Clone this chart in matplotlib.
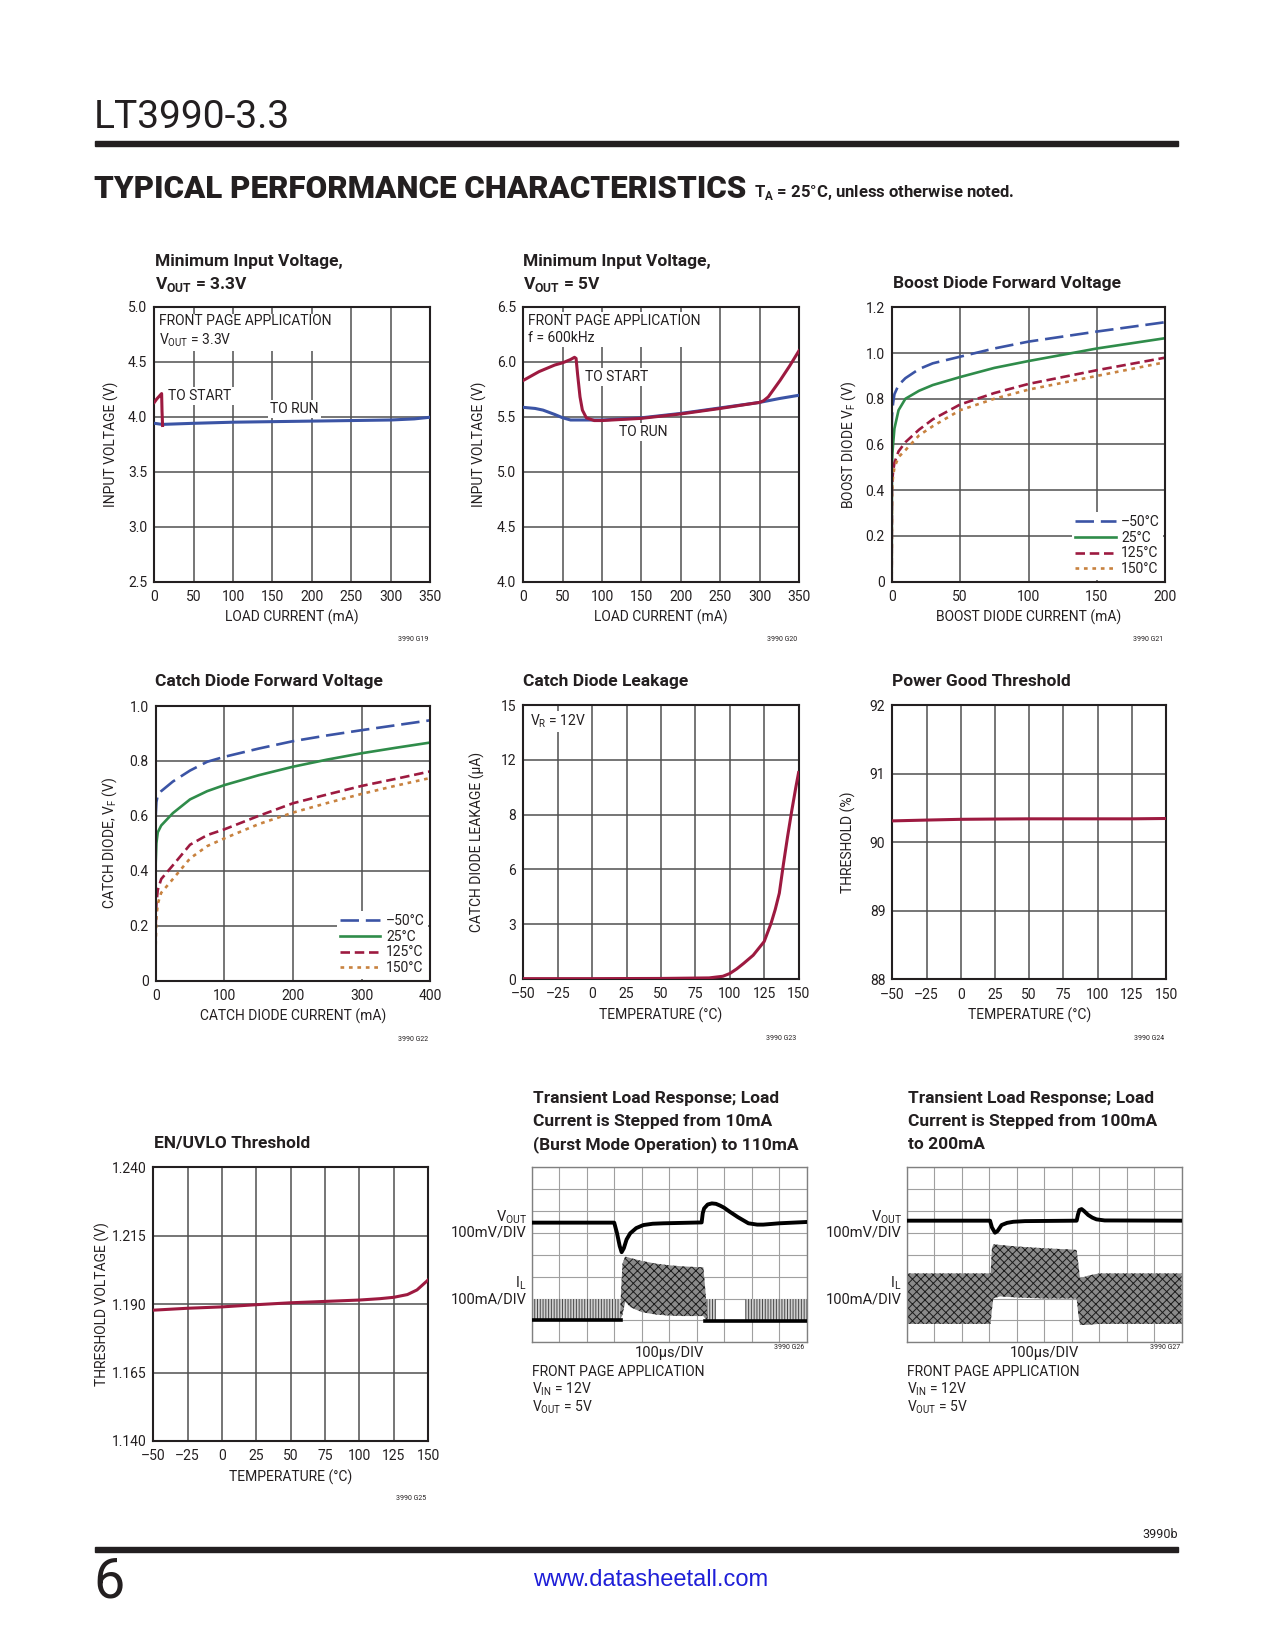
import numpy as np
import matplotlib
matplotlib.use('Agg')
import matplotlib.pyplot as plt
from matplotlib import font_manager

W, H = 1275, 1650
INK = '#231f20'
BLUE = '#3b54a5'
GREEN = '#2f8c4a'
RED = '#9d1a40'
ORANGE = '#c8823f'

avail = {f.name for f in font_manager.fontManager.ttflist}
fams = [f for f in ['Liberation Sans Narrow', 'Roboto'] if f in avail]
plt.rcParams['font.family'] = fams + ['DejaVu Sans']
plt.rcParams['text.color'] = INK
plt.rcParams['axes.labelcolor'] = INK
plt.rcParams['xtick.color'] = INK
plt.rcParams['ytick.color'] = INK
plt.rcParams['hatch.linewidth'] = 0.7

# ---- data ----
# minimum input voltage, VOUT = 3.3V
i1_run = [0, 10, 50, 100, 150, 200, 250, 300, 330, 350]
v1_run = [3.94, 3.93, 3.94, 3.95, 3.955, 3.96, 3.965, 3.97, 3.98, 3.995]
i1_start = [0, 3, 8, 9.3, 9.8, 10.5]
v1_start = [4.13, 4.16, 4.2, 4.21, 4.05, 3.92]

# minimum input voltage, VOUT = 5V
i2_run = [0, 15, 25, 40, 50, 60, 70, 100, 150, 200, 250, 300, 325, 350]
v2_run = [5.585, 5.575, 5.56, 5.52, 5.49, 5.47, 5.47, 5.47, 5.49, 5.53, 5.58, 5.63, 5.665, 5.695]
i2_start = [0, 10, 20, 30, 40, 50, 60, 65, 67, 69, 72, 75, 80, 90, 100, 150, 200, 250,
            300, 305, 311, 318, 326, 338, 350]
v2_start = [5.83, 5.87, 5.91, 5.94, 5.97, 5.99, 6.02, 6.04, 6.03, 5.88, 5.68, 5.56, 5.49,
            5.465, 5.465, 5.485, 5.525, 5.575, 5.63, 5.645, 5.68, 5.75, 5.83, 5.96, 6.1]

# boost diode forward voltage
temps = ['–50°C', '25°C', '125°C', '150°C']
i3 = [0, 0.2, 0.5, 1, 2, 5, 10, 20, 30, 50, 75, 100, 150, 200]
vb_m50 = [0.66, 0.72, 0.75, 0.78, 0.82, 0.86, 0.89, 0.93, 0.955, 0.984, 1.02, 1.05, 1.094, 1.135]
vb_25 = [0.0, 0.5, 0.56, 0.6, 0.67, 0.75, 0.80, 0.835, 0.86, 0.895, 0.935, 0.965, 1.02, 1.065]
vb_125 = [0.0, 0.40, 0.45, 0.48, 0.52, 0.57, 0.61, 0.665, 0.71, 0.775, 0.825, 0.865, 0.925, 0.98]
vb_150 = [0.0, 0.38, 0.43, 0.46, 0.50, 0.545, 0.575, 0.64, 0.68, 0.75, 0.80, 0.84, 0.90, 0.96]

# catch diode forward voltage
i4 = [0, 1, 3, 8, 25, 50, 75, 100, 150, 200, 250, 300, 350, 400]
vc_m50 = [0.60, 0.65, 0.675, 0.69, 0.725, 0.765, 0.797, 0.815, 0.845, 0.872, 0.893, 0.912, 0.93, 0.948]
vc_25 = [0.43, 0.50, 0.54, 0.565, 0.61, 0.66, 0.69, 0.712, 0.748, 0.779, 0.805, 0.828, 0.848, 0.867]
vc_125 = [0.20, 0.28, 0.33, 0.37, 0.42, 0.495, 0.53, 0.551, 0.60, 0.646, 0.678, 0.709, 0.735, 0.762]
vc_150 = [0.13, 0.23, 0.28, 0.32, 0.37, 0.445, 0.49, 0.518, 0.57, 0.612, 0.647, 0.68, 0.71, 0.738]

# catch diode leakage (axis units; the printed scale is 0 3 6 8 12 15)
t5 = [-50, 0, 50, 85, 95, 100, 105, 110, 117, 125, 130, 133, 136, 139, 142, 145, 148, 150]
leak = [0.02, 0.02, 0.03, 0.06, 0.15, 0.3, 0.55, 0.85, 1.3, 2.05, 3.05, 3.8, 4.7, 6.3, 7.8, 9.2, 10.5, 11.3]
leak_ticklabels = ['0', '3', '6', '8', '12', '15']

# power good threshold
t6 = [-50, -25, 0, 25, 50, 75, 100, 125, 150]
pg = [90.31, 90.322, 90.333, 90.337, 90.34, 90.34, 90.34, 90.34, 90.345]

# EN/UVLO threshold
t7 = [-50, -25, 0, 25, 50, 75, 100, 115, 125, 135, 142, 146, 150]
uvlo = [1.1878, 1.1885, 1.189, 1.1898, 1.1905, 1.191, 1.1915, 1.192, 1.1925, 1.1935, 1.1952, 1.197, 1.1988]

temp_ticks = [-50, -25, 0, 25, 50, 75, 100, 125, 150]
temp_labels = ['–50', '–25', '0', '25', '50', '75', '100', '125', '150']

# scope 1 (divisions, 10 x 8)
s1_vout_t = [0, 3.0, 3.1, 3.2, 3.27, 3.35, 3.45, 3.58, 3.8, 4.06, 4.4, 4.79, 5.5, 6.18, 6.22, 6.27,
             6.4, 6.55, 6.7, 6.85, 7.0, 7.2, 7.5, 7.88, 8.2, 8.42, 9.0, 10]
s1_vout = [5.47, 5.47, 5.0, 4.4, 4.12, 4.3, 4.7, 4.98, 5.22, 5.36, 5.42, 5.44, 5.46, 5.48, 5.9, 6.12,
           6.3, 6.35, 6.33, 6.25, 6.15, 5.97, 5.72, 5.44, 5.38, 5.38, 5.44, 5.5]
s1_il_t = [3.2, 3.3, 3.4, 3.6, 4.0, 4.5, 5.0, 5.5, 6.0, 6.24, 6.3, 6.4]
s1_il_hi = [1.0, 3.6, 3.92, 3.85, 3.72, 3.6, 3.52, 3.47, 3.44, 3.43, 2.6, 1.0]
s1_il_lo = [1.0, 1.25, 1.85, 1.6, 1.38, 1.27, 1.22, 1.2, 1.2, 1.2, 1.1, 1.0]
s1_bursts = [(0.0, 3.2), (6.3, 6.7), (7.76, 10.0)]
s1_burst_top = 2.0
s1_base_t = [0, 3.25, np.nan, 6.3, 10]
s1_base = [1.0, 1.0, np.nan, 0.97, 0.97]

# scope 2
s2_vout_t = [0, 3.03, 3.1, 3.21, 3.3, 3.45, 3.65, 3.88, 4.3, 6.18, 6.23, 6.28, 6.36, 6.45, 6.6,
             6.75, 6.9, 7.2, 10]
s2_vout = [5.56, 5.56, 5.25, 5.01, 5.08, 5.36, 5.46, 5.51, 5.54, 5.56, 5.85, 6.05, 6.09, 6.0, 5.82,
           5.7, 5.62, 5.57, 5.56]
s2_il_t = [0, 3.05, 3.1, 3.15, 3.4, 4.0, 5.0, 6.0, 6.18, 6.25, 6.3, 6.6, 7.0, 10]
s2_il_hi = [3.15, 3.15, 4.3, 4.48, 4.45, 4.38, 4.3, 4.24, 4.22, 3.5, 2.92, 3.05, 3.15, 3.15]
s2_il_lo = [0.84, 0.84, 1.5, 2.0, 2.1, 2.05, 2.0, 2.0, 2.0, 1.2, 0.79, 0.8, 0.84, 0.84]


fig = plt.figure(figsize=(W / 100, H / 100), dpi=100)

TITLE = 12.5


def ft(x, y, s, **kw):
    kw.setdefault('va', 'center')
    fig.text(x / W, 1 - y / H, s, **kw)


def pax(x0, y0, x1, y1):
    return fig.add_axes([x0 / W, 1 - y1 / H, (x1 - x0) / W, (y1 - y0) / H])


def style(ax, xlim, xt, xtl, ylim, yt, ytl, xlabel, ylabel, ylab_dx):
    ax.set_xlim(*xlim)
    ax.set_ylim(*ylim)
    ax.set_xticks(xt)
    ax.set_xticklabels(xtl)
    ax.set_yticks(yt)
    ax.set_yticklabels(ytl)
    ax.set_axisbelow(True)
    ax.grid(True, color='#505050', lw=1.1)
    ax.tick_params(length=0, labelsize=10)
    ax.tick_params(axis='x', pad=6)
    ax.tick_params(axis='y', pad=5)
    for s in ax.spines.values():
        s.set_linewidth(1.5)
        s.set_color(INK)
    ax.set_xlabel(xlabel, fontsize=10, va='center')
    ax.set_ylabel(ylabel, fontsize=10, va='center')
    ax.xaxis.set_label_coords(0.5, -36 / 275)
    ax.yaxis.set_label_coords(-ylab_dx / 275, 0.5)


def boxtext(ax, x, y, s, **kw):
    ax.text(x, y, s, fontsize=10, zorder=3,
            bbox=dict(facecolor='white', edgecolor='none', pad=1.5), **kw)


def legend(ax):
    leg = ax.legend(temps, loc='lower right', fontsize=10, handlelength=2.9, handletextpad=0.4,
                    labelspacing=0.12, borderpad=0.25, borderaxespad=0.15, fancybox=False)
    leg.get_frame().set_edgecolor('none')
    leg.get_frame().set_facecolor('white')
    leg.get_frame().set_alpha(1)


def four(ax, x, a, b, c, d):
    ax.plot(x, a, color=BLUE, lw=1.9, dashes=(7, 2.6))
    ax.plot(x, b, color=GREEN, lw=1.9)
    ax.plot(x, c, color=RED, lw=1.9, dashes=(3.6, 1.8))
    ax.plot(x, d, color=ORANGE, lw=1.9, dashes=(1.4, 1.8))


def tag(ax_right, y, s):
    ft(ax_right, y, s, fontsize=5, ha='right')


# ---- page header ----
ft(94, 117, 'LT3990-3.3', fontsize=28, ha='left')
fig.add_artist(plt.Rectangle((94.5 / W, 1 - 146 / H), (1178 - 94.5) / W, 5.5 / H,
                             transform=fig.transFigure, color=INK))
ft(94, 189, 'TYPICAL PERFORMANCE CHARACTERISTICS', fontsize=22.5, fontweight='heavy', ha='left')
ft(754, 192, 'T$_{\\mathregular{A}}$ = 25°C, unless otherwise noted.', fontsize=12,
   fontweight='bold', ha='left')

# ---- plot 1 ----
ax = pax(154.3, 306.7, 430, 581.7)
style(ax, (0, 350), range(0, 351, 50), [str(v) for v in range(0, 351, 50)],
      (2.5, 5.0), np.arange(2.5, 5.01, 0.5), ['2.5', '3.0', '3.5', '4.0', '4.5', '5.0'],
      'LOAD CURRENT (mA)', 'INPUT VOLTAGE (V)', 42.6)
ax.plot(i1_run, v1_run, color=BLUE, lw=2.2, zorder=4)
ax.plot(i1_start, v1_start, color=RED, lw=2.2, zorder=4)
boxtext(ax, 6, 4.93, 'FRONT PAGE APPLICATION\nV$_{\\mathregular{OUT}}$ = 3.3V', va='top', ha='left',
        linespacing=1.25)
boxtext(ax, 18, 4.19, 'TO START', va='center', ha='left')
boxtext(ax, 147, 4.07, 'TO RUN', va='center', ha='left')
ft(155, 261.7, 'Minimum Input Voltage,', fontsize=TITLE, fontweight='bold', ha='left')
ft(155, 285, 'V$_{\\mathregular{OUT}}$ = 3.3V', fontsize=TITLE, fontweight='bold', ha='left')
tag(428, 639.5, '3990 G19')

# ---- plot 2 ----
ax = pax(523.3, 306.7, 799, 581.7)
style(ax, (0, 350), range(0, 351, 50), [str(v) for v in range(0, 351, 50)],
      (4.0, 6.5), np.arange(4.0, 6.51, 0.5), ['4.0', '4.5', '5.0', '5.5', '6.0', '6.5'],
      'LOAD CURRENT (mA)', 'INPUT VOLTAGE (V)', 44)
ax.plot(i2_run, v2_run, color=BLUE, lw=2.2, zorder=4)
ax.plot(i2_start, v2_start, color=RED, lw=2.2, zorder=4)
boxtext(ax, 6, 6.43, 'FRONT PAGE APPLICATION\nf = 600kHz', va='top', ha='left', linespacing=1.25)
boxtext(ax, 78, 5.86, 'TO START', va='center', ha='left')
boxtext(ax, 122, 5.36, 'TO RUN', va='center', ha='left')
ft(523, 261.7, 'Minimum Input Voltage,', fontsize=TITLE, fontweight='bold', ha='left')
ft(523, 285, 'V$_{\\mathregular{OUT}}$ = 5V', fontsize=TITLE, fontweight='bold', ha='left')
tag(797, 639.5, '3990 G20')

# ---- plot 3 ----
ax = pax(891.7, 307.3, 1165.4, 581.7)
style(ax, (0, 200), range(0, 201, 50), [str(v) for v in range(0, 201, 50)],
      (0, 1.2), np.arange(0, 1.21, 0.2), ['0', '0.2', '0.4', '0.6', '0.8', '1.0', '1.2'],
      'BOOST DIODE CURRENT (mA)', 'BOOST DIODE V$_{\\mathregular{F}}$ (V)', 43.6)
four(ax, i3, vb_m50, vb_25, vb_125, vb_150)
legend(ax)
ft(893, 283.3, 'Boost Diode Forward Voltage', fontsize=TITLE, fontweight='bold', ha='left')
tag(1163, 639.5, '3990 G21')

# ---- plot 4 ----
ax = pax(155.7, 706, 430.3, 980.7)
style(ax, (0, 400), range(0, 401, 100), [str(v) for v in range(0, 401, 100)],
      (0, 1.0), np.arange(0, 1.01, 0.2), ['0', '0.2', '0.4', '0.6', '0.8', '1.0'],
      'CATCH DIODE CURRENT (mA)', 'CATCH DIODE, V$_{\\mathregular{F}}$ (V)', 45.7)
four(ax, i4, vc_m50, vc_25, vc_125, vc_150)
legend(ax)
ft(155, 681.7, 'Catch Diode Forward Voltage', fontsize=TITLE, fontweight='bold', ha='left')
tag(428, 1039.5, '3990 G22')

# ---- plot 5 ----
ax = pax(523.3, 705, 798.6, 979)
style(ax, (-50, 150), temp_ticks, temp_labels, (0, 15), range(0, 16, 3), leak_ticklabels,
      'TEMPERATURE (°C)', 'CATCH DIODE LEAKAGE (µA)', 46)
ax.plot(t5, leak, color=RED, lw=2.2, zorder=4)
boxtext(ax, -45, 14.1, 'V$_{\\mathregular{R}}$ = 12V', va='center', ha='left')
ft(523, 681.7, 'Catch Diode Leakage', fontsize=TITLE, fontweight='bold', ha='left')
tag(796, 1038, '3990 G23')

# ---- plot 6 ----
ax = pax(892.3, 705, 1166, 979.3)
style(ax, (-50, 150), temp_ticks, temp_labels, (88, 92), range(88, 93),
      [str(v) for v in range(88, 93)], 'TEMPERATURE (°C)', 'THRESHOLD (%)', 44)
ax.plot(t6, pg, color=RED, lw=2.2, zorder=4)
ft(892, 681.7, 'Power Good Threshold', fontsize=TITLE, fontweight='bold', ha='left')
tag(1164, 1038, '3990 G24')

# ---- plot 7 ----
ax = pax(153.3, 1167.3, 428, 1441)
style(ax, (-50, 150), temp_ticks, temp_labels, (1.140, 1.240),
      [1.140, 1.165, 1.190, 1.215, 1.240], ['1.140', '1.165', '1.190', '1.215', '1.240'],
      'TEMPERATURE (°C)', 'THRESHOLD VOLTAGE (V)', 50.6)
ax.plot(t7, uvlo, color=RED, lw=2.2, zorder=4)
ft(154, 1143.3, 'EN/UVLO Threshold', fontsize=TITLE, fontweight='bold', ha='left')
tag(426, 1499, '3990 G25')


# ---- scope shots ----
def scope(x0, y0):
    ax = pax(x0, y0, x0 + 275, y0 + 175)
    ax.set_xlim(0, 10)
    ax.set_ylim(0, 8)
    ax.set_xticks(range(11))
    ax.set_yticks(range(9))
    ax.set_axisbelow(True)
    ax.grid(True, color='#a0a0a0', lw=0.8)
    ax.tick_params(length=0, labelbottom=False, labelleft=False)
    for s in ax.spines.values():
        s.set_linewidth(1.0)
        s.set_color('#808080')
    return ax


def scope_text(x0, y0, title_lines, tagname):
    for k, line in enumerate(title_lines):
        ft(x0 + 1, y0 - 69 + 23 * k, line, fontsize=TITLE, fontweight='bold', ha='left')
    ft(x0 - 5, y0 + 50, 'V$_{\\mathregular{OUT}}$', fontsize=10.5, ha='right')
    ft(x0 - 5, y0 + 65, '100mV/DIV', fontsize=10.5, ha='right')
    ft(x0 - 5, y0 + 116, 'I$_{\\mathregular{L}}$', fontsize=10.5, ha='right')
    ft(x0 - 5, y0 + 132, '100mA/DIV', fontsize=10.5, ha='right')
    ft(x0 + 137.5, y0 + 186, '100µs/DIV', fontsize=10.5, ha='center')
    ft(x0 + 273, y0 + 180, tagname, fontsize=5, ha='right')
    ft(x0, y0 + 205, 'FRONT PAGE APPLICATION', fontsize=10, ha='left')
    ft(x0, y0 + 222, 'V$_{\\mathregular{IN}}$ = 12V', fontsize=10, ha='left')
    ft(x0, y0 + 240, 'V$_{\\mathregular{OUT}}$ = 5V', fontsize=10, ha='left')


ax = scope(531.7, 1167.3)
for a, b in s1_bursts:
    ax.fill_between([a, b], s1_base[0], s1_burst_top, facecolor='#cfcfcf', edgecolor='#4a4a4a',
                    hatch='||||||', lw=0, zorder=2)
ax.fill_between(s1_il_t, s1_il_lo, s1_il_hi, facecolor='#8a8a8a', edgecolor='#1c1c1c',
                hatch='xxxx', lw=0, zorder=2)
ax.plot(s1_base_t, s1_base, color='black', lw=2.6, zorder=3)
ax.plot(s1_vout_t, s1_vout, color='black', lw=2.8, zorder=3)
scope_text(531.7, 1167.3, ['Transient Load Response; Load', 'Current is Stepped from 10mA',
                           '(Burst Mode Operation) to 110mA'], '3990 G26')

ax = scope(906.7, 1167.3)
ax.fill_between(s2_il_t, s2_il_lo, s2_il_hi, facecolor='#8a8a8a', edgecolor='#1c1c1c',
                hatch='xxxx', lw=0, zorder=2)
ax.plot(s2_vout_t, s2_vout, color='black', lw=2.8, zorder=3)
scope_text(906.7, 1167.3, ['Transient Load Response; Load', 'Current is Stepped from 100mA',
                           'to 200mA'], '3990 G27')

# ---- page footer ----
ft(1178, 1534, '3990b', fontsize=9, ha='right')
fig.add_artist(plt.Rectangle((94.5 / W, 1 - 1552 / H), (1178 - 94.5) / W, 5 / H,
                             transform=fig.transFigure, color=INK))
ft(93, 1582, '6', fontsize=40, ha='left')
ft(651, 1580, 'www.datasheetall.com', fontsize=17, ha='center', color='#1f1fd8',
   family=['Liberation Sans', 'DejaVu Sans'])

fig.savefig('out.png', dpi=100)
